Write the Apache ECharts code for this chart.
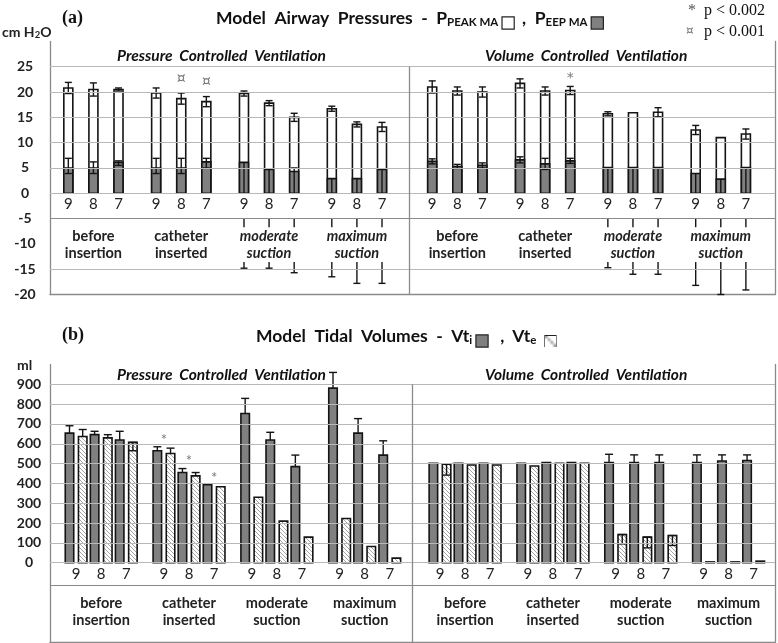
<!DOCTYPE html>
<html><head><meta charset="utf-8">
<script src="https://cdn.jsdelivr.net/npm/echarts@6/dist/echarts.min.js"></script>
<style>html,body{margin:0;padding:0;background:#fff}#c{width:778px;height:643px}</style>
</head><body><div id="c"></div>
<script>
// ---------- DATA ----------
const groupNames = ['before\ninsertion', 'catheter\ninserted', 'moderate\nsuction', 'maximum\nsuction'];
const ventModes = ['Pressure  Controlled  Ventilation', 'Volume  Controlled  Ventilation'];
const sizeLabels = ['9', '8', '7'];

// (a) model airway pressures, cm H2O. Order: PCV then VCV, 4 groups x sizes 9,8,7
const pPeak     = [20.8, 20.5, 20.5, 19.8, 18.7, 18.1, 19.7, 17.8, 15.0, 16.7, 13.6, 13.1,
                   21.0, 20.2, 20.0, 21.7, 20.2, 20.3, 15.7, 15.9, 16.0, 12.5, 11.0, 11.7];
const pPeakErr  = [1.1, 1.3, 0.3, 1.0, 1.1, 1.0, 0.5, 0.5, 0.8, 0.5, 0.5, 0.9,
                   1.2, 0.8, 1.0, 0.9, 0.8, 0.8, 0.4, 0, 0.9, 0.9, 0, 1.0];
const pEep      = [5.0, 5.0, 6.1, 5.0, 5.0, 6.2, 6.1, 4.7, 4.3, 2.9, 2.9, 4.7,
                   6.3, 5.3, 5.5, 6.6, 5.8, 6.4, 5.1, 5.1, 5.1, 3.9, 2.8, 5.1];
const pEepErrUp = [1.9, 1.2, 0.3, 1.9, 1.9, 0.7, 0, 0, 0.7, 0, 0, 0,
                   0.5, 0.4, 0.5, 0.6, 1.1, 0.5, 0, 0, 0, 0, 0, 0];
const pEepErrDn = [1.1, 1.1, 0.6, 1.1, 1.1, 1.2, 20.9, 19.5, 20.0, 19.4, 20.7, 22.5,
                   0.5, 0.4, 0.5, 0.6, 1.1, 0.5, 19.8, 21.1, 21.1, 22.1, 22.8, 24.2];
const sigAIndex = [4, 5, 17];
const sigAMark  = ['¤', '¤', '*'];
const sigAAt    = [22.5, 22.0, 22.7];

// (b) model tidal volumes, ml
const vti      = [654, 646, 619, 565, 455, 393, 753, 619, 485, 881, 654, 543,
                  502, 502, 502, 502, 505, 505, 505, 505, 505, 505, 513, 516];
const vtiErr   = [37, 17, 44, 20, 20, 0, 76, 39, 58, 79, 73, 72,
                  0, 0, 0, 0, 0, 0, 42, 39, 39, 39, 31, 28];
const vte      = [637, 630, 607, 551, 438, 383, 330, 210, 129, 223, 82, 23,
                  497, 493, 493, 488, 502, 502, 142, 129, 137, 4, 4, 8];
const vteErrUp = [35, 16, 0, 27, 17, 0, 0, 0, 0, 0, 0, 0,
                  0, 0, 0, 0, 0, 0, 0, 0, 0, 0, 0, 0];
const vteErrDn = [0, 0, 42, 0, 0, 0, 0, 0, 0, 0, 0, 0,
                  55, 0, 0, 0, 0, 0, 47, 54, 50, 0, 0, 0];
const sigBIndex = [3, 4, 5];
const sigBMark  = ['*', '*', '*'];
const sigBAt    = [632, 527, 442];

// axis ticks and gridlines
const yTicksA = [-20, -15, -10, -5, 0, 5, 10, 15, 20, 25];
const gridLinesA = [-15, 0, 5, 10, 15, 20, 25];
const yTicksB = [0, 100, 200, 300, 400, 500, 600, 700, 800, 900];
const gridLinesB = [0, 100, 200, 300, 400, 500, 600, 700, 800, 900];

// ---------- LAYOUT ----------
const FONT = 'Lato, "Noto Sans", sans-serif';
const SERIF = '"Liberation Serif", "DejaVu Serif", serif';
const NB = '\u00a0';
const xOf = k => Math.floor(k / 12) * 14.5 + Math.floor((k % 12) / 3) * 3.5 + (k % 3);
const groupX = g => Math.floor(g / 4) * 14.5 + (g % 4) * 3.5 + 1;

function makeHatch() {
  const c = document.createElement('canvas'); c.width = 4; c.height = 4;
  const ctx = c.getContext('2d');
  ctx.fillStyle = '#fff'; ctx.fillRect(0, 0, 4, 4);
  ctx.strokeStyle = '#9a9a9a'; ctx.lineWidth = 0.9;
  ctx.beginPath();
  ctx.moveTo(-1, -1); ctx.lineTo(5, 5);
  ctx.moveTo(-1, 3); ctx.lineTo(1, 5);
  ctx.moveTo(3, -1); ctx.lineTo(5, 1);
  ctx.stroke();
  return c;
}
const hatch = makeHatch();
const hatchFill = { image: hatch, repeat: 'repeat' };

const STROKE = '#141414';
const GRAY = '#808080';
const GRID_C = '#b8b8b8';
const FRAME_C = '#8a8a8a';
const seg = (x1, y1, x2, y2, w) => ({ type: 'line', shape: { x1, y1, x2, y2 }, style: { stroke: STROKE, lineWidth: w || 1.4 } });

// covered (label) band of panel a in data units
const BAND_TOP = -5, BAND_GAP_TOP = -6.7, BAND_GAP_BOT = -13.6;

function renderA(params, api) {
  const x = api.value(0), pk = api.value(1), pkE = api.value(2);
  const pe = api.value(3), peU = api.value(4), peD = api.value(5);
  const c0 = api.coord([x, 0]); const cx = c0[0];
  const yOf = v => api.coord([x, v])[1];
  const w = 9, cap = 7, h = cap / 2;
  const kids = [];
  kids.push({ type: 'rect', shape: { x: cx - w / 2, y: yOf(pk), width: w, height: c0[1] - yOf(pk) }, style: { fill: '#fff', stroke: STROKE, lineWidth: 1.6 } });
  if (pkE > 0) {
    const t = yOf(pk + pkE), b = yOf(pk - pkE);
    kids.push(seg(cx, t, cx, b), seg(cx - h, t, cx + h, t), seg(cx - h, b, cx + h, b));
  }
  kids.push({ type: 'rect', shape: { x: cx - w / 2, y: yOf(pe), width: w, height: c0[1] - yOf(pe) }, style: { fill: GRAY, stroke: STROKE, lineWidth: 1.6 } });
  if (peU > 0) {
    const t = yOf(pe + peU);
    kids.push(seg(cx, t, cx, yOf(pe)), seg(cx - h, t, cx + h, t));
  }
  if (peD > 0) {
    const low = pe - peD;
    if (low >= 0) {
      const b = yOf(low);
      kids.push(seg(cx, yOf(pe), cx, b), seg(cx - h, b, cx + h, b));
    } else {
      kids.push(seg(cx, yOf(pe), cx, c0[1]));
      kids.push(seg(cx, yOf(BAND_TOP), cx, yOf(Math.max(BAND_GAP_TOP, low))));
      if (low < BAND_GAP_BOT) kids.push(seg(cx, yOf(BAND_GAP_BOT), cx, yOf(low)));
      kids.push(seg(cx - h, yOf(low), cx + h, yOf(low)));
    }
  }
  return { type: 'group', children: kids };
}

function renderB(params, api) {
  const x = api.value(0), vi = api.value(1), viE = api.value(2);
  const ve = api.value(3), veU = api.value(4), veD = api.value(5);
  const c0 = api.coord([x, 0]);
  const yOf = v => api.coord([x, v])[1];
  const w = 8.5, cap = 8, h = cap / 2;
  const xd = c0[0] - 6.6, xh = c0[0] + 6.6;
  const kids = [];
  kids.push({ type: 'rect', shape: { x: xd - w / 2, y: yOf(vi), width: w, height: c0[1] - yOf(vi) }, style: { fill: GRAY, stroke: STROKE, lineWidth: 1.6 } });
  if (viE > 0) {
    const t = yOf(vi + viE);
    kids.push(seg(xd, t, xd, yOf(vi)), seg(xd - h, t, xd + h, t));
  }
  kids.push({ type: 'rect', shape: { x: xh - w / 2, y: yOf(ve), width: w, height: c0[1] - yOf(ve) }, style: { fill: hatchFill, stroke: STROKE, lineWidth: 1.6 } });
  if (veU > 0) {
    const t = yOf(ve + veU);
    kids.push(seg(xh, t, xh, yOf(ve)), seg(xh - h, t, xh + h, t));
  }
  if (veD > 0) {
    const b = yOf(ve - veD);
    kids.push(seg(xh, yOf(ve), xh, b), seg(xh - h, b, xh + h, b), seg(xh - h, yOf(ve), xh + h, yOf(ve)));
  }
  return { type: 'group', children: kids };
}

function sizeLabelRender(dy) {
  return function (params, api) {
    const c = api.coord([api.value(0), 0]);
    return { type: 'text', style: { text: sizeLabels[params.dataIndex % 3], x: c[0], y: c[1] + dy, align: 'center', verticalAlign: 'middle', fontSize: 15, fontFamily: FONT, fill: '#222' } };
  };
}
function groupLabelRender(dy, italicSuction) {
  return function (params, api) {
    const c = api.coord([api.value(0), 0]);
    const g = params.dataIndex % 4;
    return { type: 'text', style: { text: groupNames[g], x: c[0], y: c[1] + dy, align: 'center', verticalAlign: 'middle', fontSize: 14.5, fontWeight: 'bold', fontStyle: (italicSuction && g >= 2) ? 'italic' : 'normal', fontFamily: FONT, fill: '#222', lineHeight: 17 } };
  };
}
function sigRender(marks, font, size, dy) {
  return function (params, api) {
    const c = api.coord([api.value(0), api.value(1)]);
    return { type: 'text', style: { text: marks[params.dataIndex], x: c[0], y: c[1] + dy, align: 'center', verticalAlign: 'middle', fontSize: size, fontFamily: font, fill: '#777' } };
  };
}
const emptyRender = () => ({ type: 'group', children: [] });

const axisLabelStyle = { fontFamily: FONT, fontWeight: 'bold', fontSize: 14, color: '#222', align: 'center' };
const frameLine = { show: true, onZero: false, lineStyle: { color: FRAME_C, width: 1.3 } };
const hLine = (v, c) => ({ yAxis: v, lineStyle: { color: c } });

const titleRich = {
  t: { fontFamily: FONT, fontWeight: 'bold', fontSize: 17.5, lineHeight: 21, fill: '#111' },
  s: { fontFamily: FONT, fontWeight: 'bold', fontSize: 11.5, lineHeight: 12, verticalAlign: 'bottom', fill: '#111' },
  w: { width: 11, height: 11, backgroundColor: '#fff', borderColor: '#222', borderWidth: 1.2, verticalAlign: 'bottom' },
  g: { width: 11, height: 11, backgroundColor: GRAY, borderColor: '#222', borderWidth: 1.2, verticalAlign: 'bottom' },
  h: { width: 11, height: 11, backgroundColor: hatchFill, borderColor: '#222', borderWidth: 1.2, verticalAlign: 'bottom' }
};

const option = {
  animation: false,
  backgroundColor: '#fff',
  grid: [
    { left: 50, right: 3, top: 41.4, height: 253.1 },
    { left: 50, right: 3, top: 364.5, height: 277.5 }
  ],
  xAxis: [
    { gridIndex: 0, type: 'value', min: -0.73, max: 28.16, axisLine: frameLine, axisTick: { show: false }, axisLabel: { show: false }, splitLine: { show: false } },
    { gridIndex: 1, type: 'value', min: -1.04, max: 27.85, axisLine: frameLine, axisTick: { show: false }, axisLabel: { show: false }, splitLine: { show: false } }
  ],
  yAxis: [
    { gridIndex: 0, type: 'value', min: -20, max: 30, interval: 5, axisLine: frameLine, axisTick: { show: false },
      axisLabel: Object.assign({ margin: 25, formatter: v => yTicksA.includes(v) ? String(v) : '' }, axisLabelStyle),
      splitLine: { show: false } },
    { gridIndex: 0, type: 'value', position: 'right', min: -20, max: 30, interval: 5, axisLine: frameLine, axisTick: { show: false }, axisLabel: { show: false }, splitLine: { show: false } },
    { gridIndex: 1, type: 'value', min: -400, max: 1000, interval: 100, axisLine: frameLine, axisTick: { show: false },
      axisLabel: Object.assign({ margin: 21, formatter: v => yTicksB.includes(v) ? String(v) : '' }, axisLabelStyle),
      splitLine: { show: false } },
    { gridIndex: 1, type: 'value', position: 'right', min: -400, max: 1000, interval: 100, axisLine: frameLine, axisTick: { show: false }, axisLabel: { show: false }, splitLine: { show: false } }
  ],
  series: [
    { type: 'custom', xAxisIndex: 0, yAxisIndex: 0, renderItem: emptyRender, z: 1, data: [[0, 0]],
      markLine: { silent: true, symbol: ['none', 'none'], label: { show: false }, lineStyle: { type: 'solid', width: 1.1 },
        data: gridLinesA.map(v => hLine(v, GRID_C)).concat([hLine(-5, FRAME_C),
          [{ coord: [13.6, 25], lineStyle: { color: FRAME_C, width: 1.3 } }, { coord: [13.6, -20] }]]) } },
    { type: 'custom', xAxisIndex: 0, yAxisIndex: 0, renderItem: renderA, z: 3,
      data: pPeak.map((v, k) => [xOf(k), v, pPeakErr[k], pEep[k], pEepErrUp[k], pEepErrDn[k]]) },
    { type: 'custom', xAxisIndex: 0, yAxisIndex: 0, renderItem: sizeLabelRender(10.5), z: 4, data: pPeak.map((v, k) => [xOf(k), 0]) },
    { type: 'custom', xAxisIndex: 0, yAxisIndex: 0, renderItem: groupLabelRender(51.5, true), z: 4, data: [0, 1, 2, 3, 4, 5, 6, 7].map(g => [groupX(g), 0]) },
    { type: 'custom', xAxisIndex: 0, yAxisIndex: 0, renderItem: sigRender(sigAMark, '"DejaVu Sans", sans-serif', 14, 0), z: 4, data: sigAIndex.map((k, i) => [xOf(k), sigAAt[i]]) },

    { type: 'custom', xAxisIndex: 1, yAxisIndex: 2, renderItem: emptyRender, z: 1, data: [[0, 0]],
      markLine: { silent: true, symbol: ['none', 'none'], label: { show: false }, lineStyle: { type: 'solid', width: 1.1 },
        data: gridLinesB.map(v => hLine(v, GRID_C)).concat([hLine(-116, FRAME_C),
          [{ coord: [13.38, 900], lineStyle: { color: FRAME_C, width: 1.3 } }, { coord: [13.38, -400] }]]) } },
    { type: 'custom', xAxisIndex: 1, yAxisIndex: 2, renderItem: renderB, z: 3,
      data: vti.map((v, k) => [xOf(k), v, vtiErr[k], vte[k], vteErrUp[k], vteErrDn[k]]) },
    { type: 'custom', xAxisIndex: 1, yAxisIndex: 2, renderItem: sizeLabelRender(11), z: 4, data: vti.map((v, k) => [xOf(k), 0]) },
    { type: 'custom', xAxisIndex: 1, yAxisIndex: 2, renderItem: groupLabelRender(49, false), z: 4, data: [0, 1, 2, 3, 4, 5, 6, 7].map(g => [groupX(g), 0]) },
    { type: 'custom', xAxisIndex: 1, yAxisIndex: 2, renderItem: sigRender(sigBMark, FONT, 15, 3), z: 4, data: sigBIndex.map((k, i) => [xOf(k), sigBAt[i]]) }
  ],
  graphic: [
    { type: 'text', left: 62, top: 9, style: { text: '(a)', fontFamily: SERIF, fontWeight: 'bold', fontSize: 18, fill: '#111' } },
    { type: 'text', left: 62, top: 326, style: { text: '(b)', fontFamily: SERIF, fontWeight: 'bold', fontSize: 18, fill: '#111' } },
    { type: 'text', left: 216, top: 9, style: {
        text: '{t|Model  Airway  Pressures  -  P}{s|PEAK MA}{t|' + NB + '}{w|}{t|' + NB + NB + ',' + NB + NB + 'P}{s|EEP MA}{t|' + NB + '}{g|}',
        rich: titleRich } },
    { type: 'text', left: 256, top: 327, style: {
        text: '{t|Model  Tidal  Volumes  -  Vt}{s|i}{t|' + NB + '}{g|}{t|' + NB + NB + NB + ',' + NB + NB + 'Vt}{s|e}{t|' + NB + NB + '}{h|}',
        rich: titleRich } },
    { type: 'text', left: 688, top: 3, style: { text: '*', fontFamily: SERIF, fontSize: 16, fill: '#555' } },
    { type: 'text', left: 704, top: 3, style: { text: 'p < 0.002', fontFamily: SERIF, fontSize: 16, fill: '#111' } },
    { type: 'text', left: 686, top: 25, style: { text: '¤', fontFamily: '"DejaVu Sans", sans-serif', fontSize: 12, fill: '#777' } },
    { type: 'text', left: 704, top: 24, style: { text: 'p < 0.001', fontFamily: SERIF, fontSize: 16, fill: '#111' } },
    { type: 'text', left: 2, top: 25, style: {
        text: '{t|cm H}{s|2}{t|O}',
        rich: {
          t: { fontFamily: FONT, fontWeight: 'bold', fontSize: 14, lineHeight: 16, fill: '#222' },
          s: { fontFamily: FONT, fontWeight: 'bold', fontSize: 9.5, lineHeight: 10, verticalAlign: 'bottom', fill: '#222' }
        } } },
    { type: 'text', left: 17, top: 358, style: { text: 'ml', fontFamily: FONT, fontWeight: 'bold', fontSize: 14, fill: '#222' } },
    { type: 'text', left: 117, top: 48, style: { text: ventModes[0], fontFamily: FONT, fontWeight: 'bold', fontStyle: 'italic', fontSize: 15.5, fill: '#111' } },
    { type: 'text', left: 485, top: 48, style: { text: ventModes[1], fontFamily: FONT, fontWeight: 'bold', fontStyle: 'italic', fontSize: 15.5, fill: '#111' } },
    { type: 'text', left: 117, top: 367, style: { text: ventModes[0], fontFamily: FONT, fontWeight: 'bold', fontStyle: 'italic', fontSize: 15.5, fill: '#111' } },
    { type: 'text', left: 485, top: 367, style: { text: ventModes[1], fontFamily: FONT, fontWeight: 'bold', fontStyle: 'italic', fontSize: 15.5, fill: '#111' } }
  ]
};
const chart = echarts.init(document.getElementById('c'));
chart.setOption(option);
</script></body></html>
